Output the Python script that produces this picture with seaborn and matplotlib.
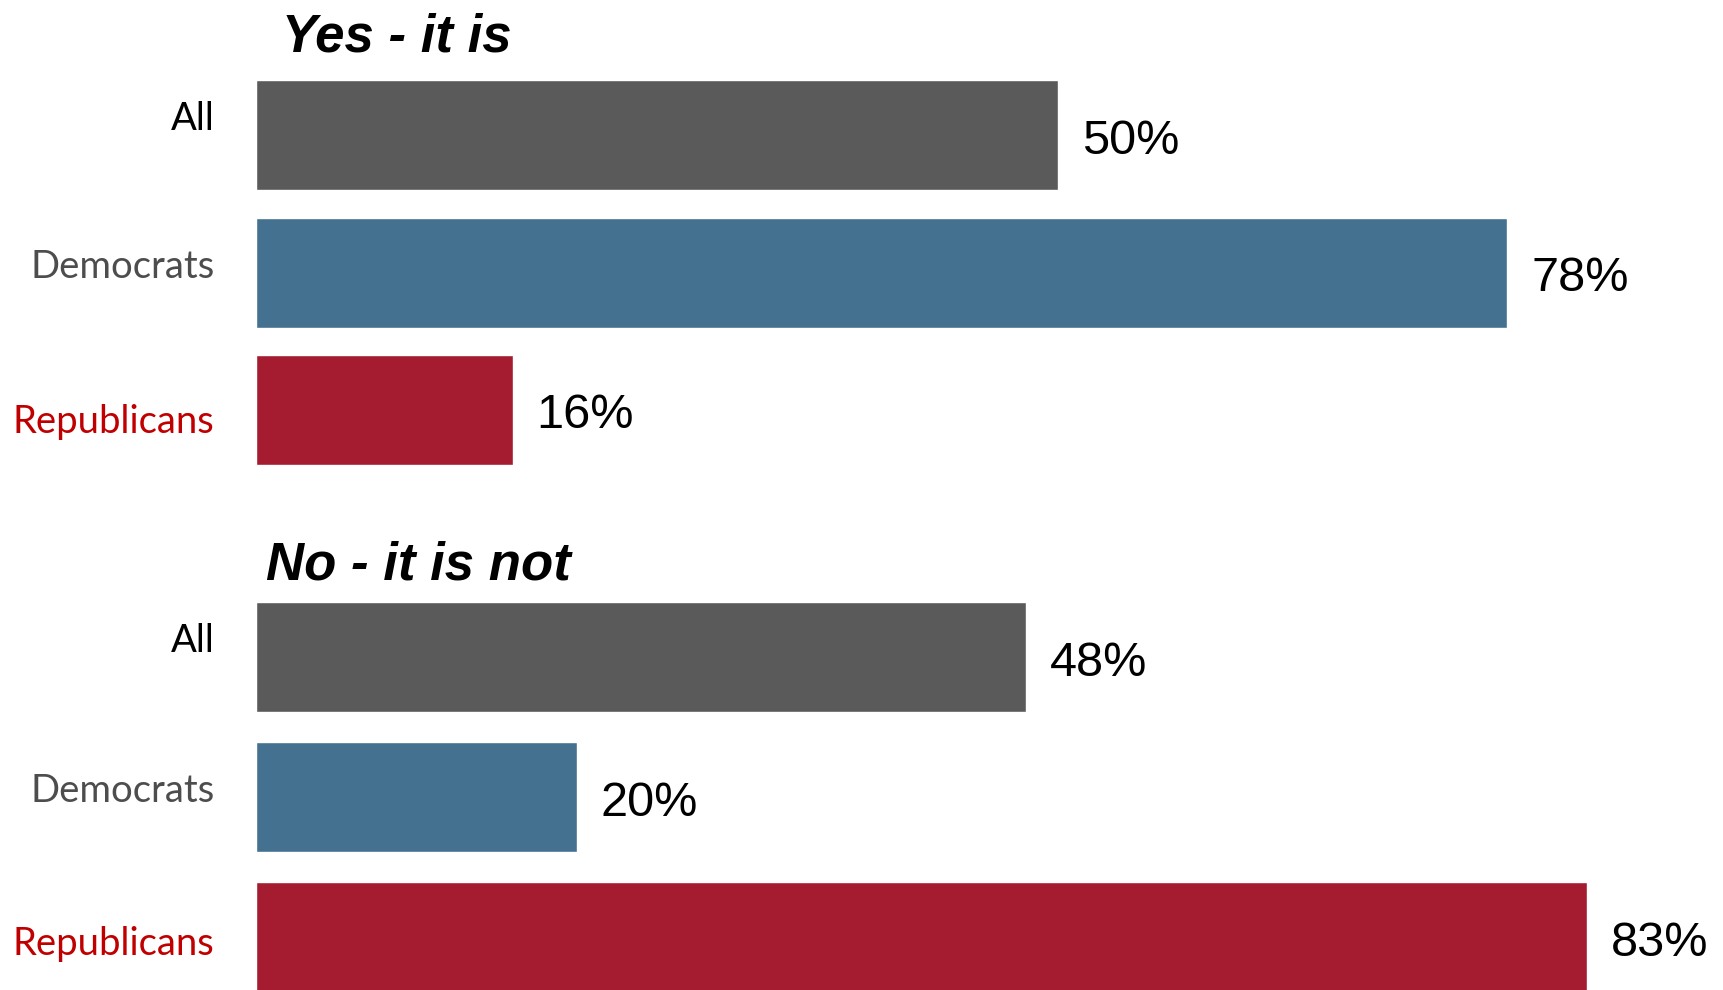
import matplotlib
matplotlib.use("Agg")
import matplotlib.pyplot as plt
import matplotlib.transforms as mtransforms
import seaborn as sns
import pandas as pd

groups = ["All", "Democrats", "Republicans"]
yes_values = [50, 78, 16]
no_values = [48, 20, 83]
titles = ["Yes - it is", "No - it is not"]

bar_colors = ["#5a5a5a", "#43718f", "#a51c30"]
label_colors = ["#000000", "#4d4d4d", "#c00000"]

sns.set_theme(style="white")
plt.rcParams["font.family"] = ["Liberation Sans", "DejaVu Sans"]

W, H = 1723, 990
fig = plt.figure(figsize=(W / 100, H / 100), dpi=100)

px_per_pct = 16.04
left_px = 256
xmax = (W - left_px) / px_per_pct

# (top of axes px, spacing px, title x px, title baseline px, label offsets px)
panels = [
    (yes_values, titles[0], 66.25, 137.5, 282, 52, [20, 9, -8]),
    (no_values, titles[1], 587.0, 140.0, 266, 579, [20, 10, -4]),
]

for values, title, top_px, spacing, tx, ty, offs in panels:
    height_px = 3 * spacing
    ax = fig.add_axes([left_px / W, 1 - (top_px + height_px) / H,
                       (W - left_px) / W, height_px / H])
    df = pd.DataFrame({"group": groups, "value": values})
    sns.barplot(data=df, x="value", y="group", hue="group", palette=bar_colors,
                order=groups, hue_order=groups, orient="h", width=110 / spacing,
                saturation=1, legend=False, ax=ax)
    ax.set_xlim(0, xmax)
    ax.set_ylim(2.5, -0.5)
    ax.set_xlabel("")
    ax.set_ylabel("")
    ax.set_xticks([])
    for s in ax.spines.values():
        s.set_visible(False)
    ax.tick_params(axis="y", length=0, pad=30)
    ax.set_yticks(range(len(groups)))
    ax.set_yticklabels(groups, fontfamily="Lato", fontsize=27.5)
    for lab, col, off in zip(ax.get_yticklabels(), label_colors, offs):
        lab.set_color(col)
        lab.set_transform(lab.get_transform() +
                          mtransforms.ScaledTranslation(0, off / 100, fig.dpi_scale_trans))
    val_shift = mtransforms.ScaledTranslation(0, -6 / 100, fig.dpi_scale_trans)
    for i, v in enumerate(values):
        ax.text(v + 24 / px_per_pct, i, f"{v}%", va="center", ha="left",
                fontsize=35, color="black", fontfamily="Liberation Sans",
                transform=ax.transData + val_shift)
    fig.text(tx / W, 1 - ty / H, title, fontsize=38, fontweight="bold",
             fontstyle="italic", ha="left", va="baseline",
             fontfamily="Liberation Sans", color="black")

fig.savefig("out.png", dpi=100)
